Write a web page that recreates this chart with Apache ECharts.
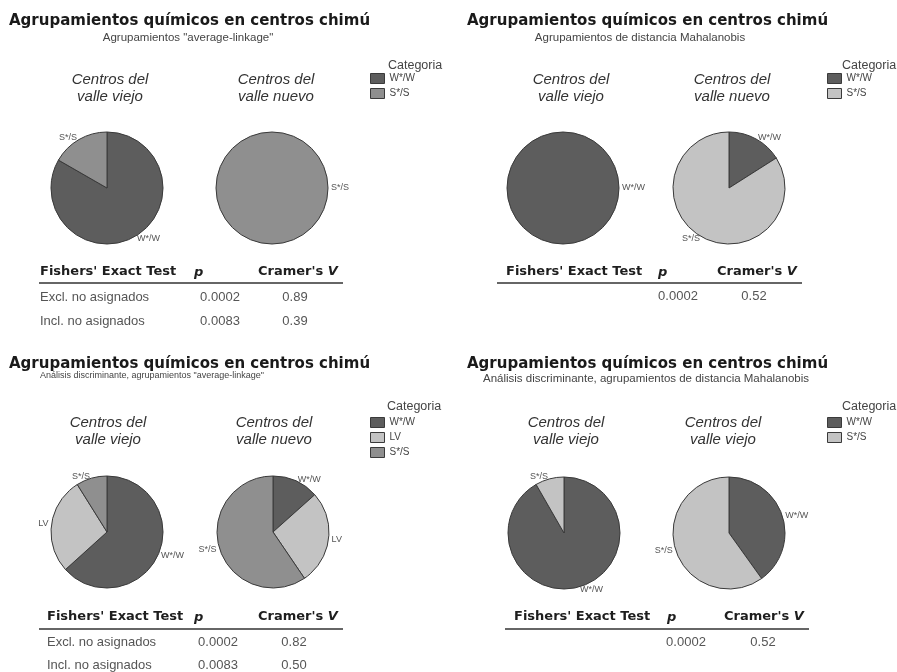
<!DOCTYPE html>
<html>
<head>
<meta charset="utf-8">
<script src="https://cdn.jsdelivr.net/npm/echarts@6/dist/echarts.min.js"></script>
<style>
  html, body { margin: 0; padding: 0; background: #ffffff; }
  #chart { width: 897px; height: 672px; }
</style>
</head>
<body>
<div id="chart"></div>
<script>
// Categories
const catsTwo = ['W*/W', 'S*/S'];
const catsThree = ['W*/W', 'LV', 'S*/S'];

// Shares (%) per group of centres, in category order
const linkageViejo = [83.3, 16.7];
const linkageNuevo = [0, 100];
const mahalViejo = [100, 0];
const mahalNuevo = [16.0, 84.0];
const discLinkViejo = [63.3, 27.8, 8.9];
const discLinkNuevo = [13.4, 27.1, 59.5];
const discMahalViejo = [91.7, 8.3];
const discMahalNuevo = [40.1, 59.9];

// Test statistics
const rowLabels = ['Excl. no asignados', 'Incl. no asignados'];
const pLinkage = ['0.0002', '0.0083'];
const vLinkage = ['0.89', '0.39'];
const pMahal = ['0.0002'];
const vMahal = ['0.52'];
const pDiscLink = ['0.0002', '0.0083'];
const vDiscLink = ['0.82', '0.50'];
const pDiscMahal = ['0.0002'];
const vDiscMahal = ['0.52'];

// Texts
const panelTitle = 'Agrupamientos químicos en centros chimú';
const subtitles = [
  'Agrupamientos "average-linkage"',
  'Agrupamientos de distancia Mahalanobis',
  'Análisis discriminante, agrupamientos "average-linkage"',
  'Análisis discriminante, agrupamientos de distancia Mahalanobis'
];
const groupViejo = 'Centros del\nvalle viejo';
const groupNuevo = 'Centros del\nvalle nuevo';
const legendTitle = 'Categoria';
const headFisher = "Fishers' Exact Test";

// Palette
const DARK = '#5d5d5d';
const MID = '#8f8f8f';
const LIGHT = '#c3c3c3';
const EDGE = '#3a3a3a';

const SANS = '"Liberation Sans", Arial, sans-serif';
const HEAVY = '"DejaVu Sans", sans-serif';

function pie(center, cats, values, colors) {
  const data = cats
    .map((c, i) => ({ name: c, value: values[i], itemStyle: { color: colors[i] } }))
    .filter(d => d.value > 0);
  // a single full slice gets its label on the right-hand side
  const startAngle = data.length === 1 ? 180 : 90;
  return {
    type: 'pie',
    center: center,
    radius: 56,
    startAngle: startAngle,
    clockwise: true,
    silent: true,
    avoidLabelOverlap: false,
    animation: false,
    data: data,
    itemStyle: { borderColor: EDGE, borderWidth: 1 },
    label: {
      show: true, position: 'outside', fontSize: 9, color: '#555',
      fontFamily: SANS, distanceToLabelLine: 1
    },
    labelLine: { show: false, length: 2, length2: 0 },
    emphasis: { disabled: true }
  };
}

function legend(left, top, entries) {
  return {
    orient: 'vertical', left: left, top: top, padding: 0,
    itemWidth: 14, itemHeight: 10, itemGap: 4, icon: 'rect',
    selectedMode: false,
    textStyle: { fontSize: 10, color: '#444', fontFamily: SANS },
    data: entries.map(e => ({
      name: e[0],
      itemStyle: { color: e[1], borderColor: EDGE, borderWidth: 1 }
    }))
  };
}

function txt(x, y, text, font, fill, align, extra) {
  return {
    type: 'text', x: x, y: y, silent: true,
    style: Object.assign({
      text: text, font: font, fill: fill,
      align: align || 'left', textAlign: align || 'left',
      verticalAlign: 'middle', textVerticalAlign: 'middle'
    }, extra || {})
  };
}

function panelHeader(titleX, titleY, subX, subY, sub, subSize, g1x, g2x, gy, t1, t2, legX, legY) {
  return [
    txt(titleX, titleY, panelTitle, 'bold 15px ' + HEAVY, '#1a1a1a', 'left'),
    txt(subX, subY, sub, subSize + 'px ' + SANS, '#444', 'center'),
    txt(g1x, gy, t1, 'italic 15px ' + SANS, '#333', 'center', { lineHeight: 17 }),
    txt(g2x, gy, t2, 'italic 15px ' + SANS, '#333', 'center', { lineHeight: 17 }),
    txt(legX, legY, legendTitle, '12.5px ' + SANS, '#444', 'left')
  ];
}

function table(t) {
  const els = [];
  els.push(txt(t.labelX, t.headY, headFisher, 'bold 13px ' + HEAVY, '#1e1e1e', 'left'));
  els.push(txt(t.pHeadX, t.headY + 1, 'p', 'italic bold 13px ' + HEAVY, '#1e1e1e', 'left'));
  els.push(txt(t.vHeadX, t.headY, "Cramer's {i|V}", 'bold 13px ' + HEAVY, '#1e1e1e', 'left', {
    rich: { i: { font: 'italic bold 13px ' + HEAVY, fill: '#1e1e1e' } }
  }));
  els.push({
    type: 'line', silent: true,
    shape: { x1: t.lineX[0], y1: t.lineY, x2: t.lineX[1], y2: t.lineY },
    style: { stroke: '#333', lineWidth: 1.5 }
  });
  t.p.forEach((pv, i) => {
    if (t.rows) els.push(txt(t.labelX, t.rowY[i], t.rows[i], '13px ' + SANS, '#555', 'left'));
    els.push(txt(t.pValX, t.rowY[i], pv, '13px ' + SANS, '#555', 'center'));
    els.push(txt(t.vValX, t.rowY[i], t.v[i], '13px ' + SANS, '#555', 'center'));
  });
  return els;
}

const graphics = [].concat(
  panelHeader(9, 21, 188, 38, subtitles[0], 11.5, 110, 276, 88.5, groupViejo, groupNuevo, 388, 66),
  panelHeader(467, 21, 640, 38, subtitles[1], 11.5, 571, 732, 88.5, groupViejo, groupNuevo, 842, 66),
  panelHeader(9, 364, 152, 376, subtitles[2], 9, 108, 274, 431.5, groupViejo, groupNuevo, 387, 407),
  panelHeader(467, 364, 646, 379, subtitles[3], 11.5, 566, 723, 431.5, groupViejo, groupViejo, 842, 407),
  table({ labelX: 40, headY: 272, pHeadX: 194, vHeadX: 258, lineX: [39, 343], lineY: 283,
          rowY: [297, 321], rows: rowLabels, p: pLinkage, v: vLinkage, pValX: 220, vValX: 295 }),
  table({ labelX: 506, headY: 272, pHeadX: 658, vHeadX: 717, lineX: [497, 802], lineY: 283,
          rowY: [296], rows: null, p: pMahal, v: vMahal, pValX: 678, vValX: 754 }),
  table({ labelX: 47, headY: 617, pHeadX: 194, vHeadX: 258, lineX: [39, 343], lineY: 629,
          rowY: [642, 665], rows: rowLabels, p: pDiscLink, v: vDiscLink, pValX: 218, vValX: 294 }),
  table({ labelX: 514, headY: 617, pHeadX: 667, vHeadX: 724, lineX: [505, 809], lineY: 629,
          rowY: [642], rows: null, p: pDiscMahal, v: vDiscMahal, pValX: 686, vValX: 763 })
);

const option = {
  backgroundColor: '#ffffff',
  animation: false,
  legend: [
    legend(370, 73, [['W*/W', DARK], ['S*/S', MID]]),
    legend(827, 73, [['W*/W', DARK], ['S*/S', LIGHT]]),
    legend(370, 417, [['W*/W', DARK], ['LV', LIGHT], ['S*/S', MID]]),
    legend(827, 417, [['W*/W', DARK], ['S*/S', LIGHT]])
  ],
  series: [
    pie([107, 188], catsTwo, linkageViejo, [DARK, MID]),
    pie([272, 188], catsTwo, linkageNuevo, [DARK, MID]),
    pie([563, 188], catsTwo, mahalViejo, [DARK, LIGHT]),
    pie([729, 188], catsTwo, mahalNuevo, [DARK, LIGHT]),
    pie([107, 532], catsThree, discLinkViejo, [DARK, LIGHT, MID]),
    pie([273, 532], catsThree, discLinkNuevo, [DARK, LIGHT, MID]),
    pie([564, 533], catsTwo, discMahalViejo, [DARK, LIGHT]),
    pie([729, 533], catsTwo, discMahalNuevo, [DARK, LIGHT])
  ],
  graphic: { elements: graphics }
};

const chart = echarts.init(document.getElementById('chart'), null, { renderer: 'canvas' });
chart.setOption(option);
</script>
</body>
</html>
